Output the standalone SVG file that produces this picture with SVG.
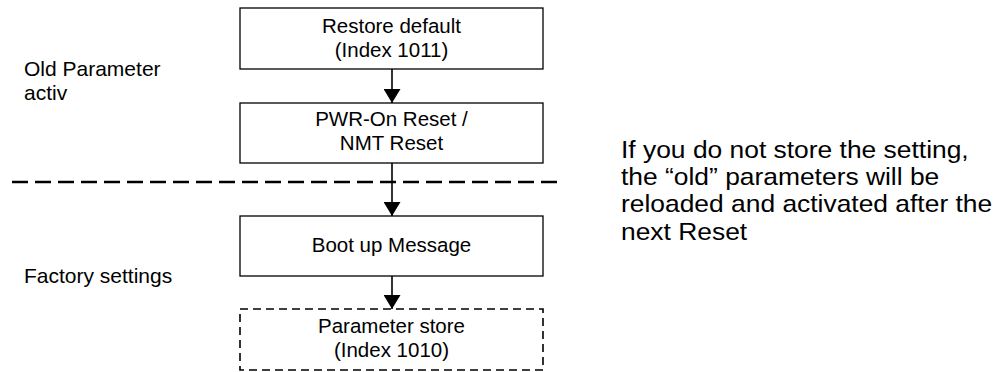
<svg xmlns="http://www.w3.org/2000/svg" width="1006" height="372" viewBox="0 0 1006 372">
  <style>
    text { font-family: "Liberation Sans", Arial, sans-serif; fill: #000; }
    .box { fill: #fff; stroke: #000; stroke-width: 1.3; }
    .box-dash { fill: #fff; stroke: #000; stroke-width: 1.6; stroke-dasharray: 8 5; }
    .lbl { font-size: 20.5px; text-anchor: middle; }
    .side { font-size: 21px; }
    .note { font-size: 24px; }
    .link { stroke: #000; stroke-width: 1.6; fill: none; }
  </style>
  <defs>
    <marker id="arrow" viewBox="0 0 14 17" refX="14" refY="8.5" markerWidth="14" markerHeight="17" markerUnits="userSpaceOnUse" orient="auto">
      <path d="M0,0 L14,8.5 L0,17 Z" fill="#000"/>
    </marker>
  </defs>

  <rect width="1006" height="372" fill="#fff"/>

  <!-- separator between old parameters and factory settings -->
  <line x1="12" y1="182" x2="558" y2="182" stroke="#000" stroke-width="2.4" stroke-dasharray="16 7"/>

  <!-- side labels -->
  <g id="label-old">
    <text class="side" x="24" y="76">Old Parameter</text>
    <text class="side" x="24" y="100">activ</text>
  </g>
  <g id="label-factory">
    <text class="side" x="24" y="283">Factory settings</text>
  </g>
  <!-- explanatory note, set slightly wide -->
  <g id="note" transform="translate(621,0) scale(1.1,1)">
    <text class="note" x="0" y="158">If you do not store the setting,</text>
    <text class="note" x="0" y="185">the “old” parameters will be</text>
    <text class="note" x="0" y="212">reloaded and activated after the</text>
    <text class="note" x="0" y="240">next Reset</text>
  </g>

  <!-- connectors -->
  <g id="connectors">
    <line class="link" x1="392" y1="69" x2="392" y2="103" marker-end="url(#arrow)"/>
    <line class="link" x1="392" y1="163" x2="392" y2="216" marker-end="url(#arrow)"/>
    <line class="link" x1="392" y1="276" x2="392" y2="309" marker-end="url(#arrow)"/>
  </g>

  <!-- nodes -->
  <g id="restore-default">
    <rect class="box" x="240" y="8" width="303" height="61"/>
    <text class="lbl" x="391.5" y="33">Restore default</text>
    <text class="lbl" x="391.5" y="57"> (Index 1011)</text>
  </g>
  <g id="pwr-on-reset">
    <rect class="box" x="240" y="103" width="303" height="60"/>
    <text class="lbl" x="391.5" y="126">PWR-On Reset /</text>
    <text class="lbl" x="391.5" y="150">NMT Reset</text>
  </g>
  <g id="boot-up">
    <rect class="box" x="240" y="216" width="303" height="60"/>
    <text class="lbl" x="391.5" y="252">Boot up Message</text>
  </g>
  <g id="parameter-store">
    <rect class="box-dash" x="240" y="309" width="303" height="61"/>
    <text class="lbl" x="391.5" y="333">Parameter store</text>
    <text class="lbl" x="391.5" y="357">(Index 1010)</text>
  </g>
</svg>
